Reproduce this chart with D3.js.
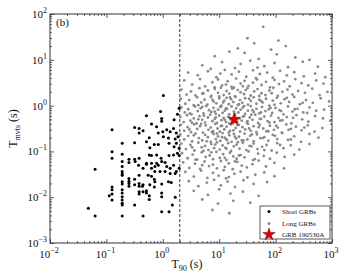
<!DOCTYPE html>
<html><head><meta charset="utf-8">
<script src="https://cdn.jsdelivr.net/npm/d3@7"></script>
<style>body{margin:0;background:#fff}</style>
</head><body><svg id="c" width="350" height="280"></svg>
<script>
// ---- data (values given as log10 of seconds) ----
const xTickExps = [-2, -1, 0, 1, 2, 3];
const yTickExps = [-3, -2, -1, 0, 1, 2];
const shortLogT90 = [0.01,-0.04,-0.29,-0.02,-0.02,0.20,0.29,0.26,-0.20,-0.11,-0.90,-0.50,-0.42,-0.35,-0.42,-0.08,0.00,0.07,0.13,0.19,0.24,0.27,0.01,0.10,0.22,-0.24,-0.29,-0.50,-0.72,-0.15,-0.08,-0.23,0.11,0.20,0.24,0.29,-0.90,-0.72,-0.60,-0.50,-0.42,-0.60,-0.24,-0.20,-0.11,-0.03,0.11,0.19,0.26,0.29,-0.90,-0.29,-0.20,-0.11,-0.02,0.04,-1.20,
-0.72,-0.72,-0.72,-0.72,-0.72,-0.72,-0.72,-0.72,-0.72,-0.72,-0.72,-0.72,-0.72,-0.72,
-0.90,-0.90,-0.90,-0.90,-0.95,
-0.60,-0.60,-0.60,-0.60,-0.50,-0.50,-0.50,
-1.32,-1.20,-0.35,
-0.42,-0.42,-0.42,-0.36,-0.35,-0.42,-0.42,-0.35,-0.29,-0.24,-0.24,-0.29,
-0.49,-0.43,-0.35,-0.29,-0.14,-0.08,0.07,0.13,0.19,0.24,0.29,
-0.26,-0.20,-0.15,-0.14,-0.23,-0.15,-0.02,0.10,0.15,-0.02,-0.02,0.22,0.17,-0.02,0.11,
-0.20,-0.14,-0.05,0.04,0.13,0.22];
const shortLogTmvts = [0.22,-0.13,-0.22,-0.28,-0.34,-0.31,-0.06,-0.19,-0.40,-0.46,-0.53,-0.48,-0.50,-0.55,-0.60,-0.60,-0.57,-0.53,-0.57,-0.50,-0.60,-0.68,-0.68,-0.71,-0.73,-0.70,-0.79,-0.81,-0.82,-0.85,-0.85,-0.92,-0.82,-0.90,-0.82,-0.93,-1.01,-1.06,-1.17,-1.17,-1.15,-1.24,-1.08,-1.09,-1.08,-1.15,-1.09,-1.08,-1.04,-1.09,-1.15,-1.26,-1.26,-1.26,-1.22,-1.24,-1.39,
-1.22,-1.33,-1.44,-1.49,-1.52,-1.66,-1.71,-1.84,-1.91,-1.99,-2.06,-2.13,-2.17,-2.41,
-1.78,-1.84,-1.93,-2.06,-1.97,
-1.59,-1.65,-1.70,-1.76,-1.61,-1.73,-2.17,
-2.24,-2.41,-2.41,
-1.52,-1.70,-1.76,-1.76,-1.73,-1.88,-1.93,-1.88,-1.91,-1.97,-2.05,-1.86,
-1.22,-1.30,-1.37,-1.28,-1.33,-1.30,-1.33,-1.37,-1.30,-1.44,-1.37,
-1.52,-1.54,-1.61,-1.66,-1.73,-1.78,-1.71,-1.66,-1.68,-1.91,-1.99,-2.00,-2.17,-2.32,-2.32,
-1.37,-1.44,-1.44,-1.44,-1.48,-1.48];
const longLogT90 = [
1.78,
1.50,2.05,
1.33,1.62,2.18,1.92,
0.92,1.45,1.70,2.35,1.18,2.02,2.60,
0.70,1.05,1.28,1.55,1.80,1.98,2.22,2.48,2.75,1.38,0.85,1.68,
0.45,0.62,0.80,0.95,1.10,1.22,1.35,1.48,1.60,1.72,1.85,1.95,2.08,2.20,2.33,2.50,2.70,1.02,1.65,2.88,
0.38,0.52,0.66,0.75,0.88,0.98,1.05,1.15,1.22,1.30,1.38,1.45,1.52,1.60,1.67,1.75,1.83,1.90,1.98,2.06,2.15,2.25,2.35,2.46,2.58,2.72,2.85,1.12,1.42,0.92,
0.33,0.42,0.50,0.58,0.65,0.72,0.80,0.86,0.92,0.98,1.03,1.08,1.13,1.18,1.23,1.28,1.33,1.38,1.44,1.50,1.56,1.62,1.68,1.75,1.82,1.89,1.96,2.04,2.12,2.21,2.30,2.40,2.52,2.65,2.78,2.92,0.70,1.00,1.26,1.47,1.71,1.93,
0.32,0.40,0.47,0.55,0.61,0.68,0.74,0.79,0.85,0.90,0.95,1.00,1.04,1.09,1.13,1.17,1.21,1.25,1.29,1.33,1.37,1.41,1.46,1.51,1.56,1.61,1.66,1.71,1.77,1.83,1.89,1.95,2.02,2.09,2.16,2.24,2.33,2.43,2.54,2.66,2.80,2.95,0.63,0.88,1.07,1.19,1.35,1.53,1.74,1.98,2.20,2.48,
0.33,0.39,0.45,0.51,0.57,0.62,0.67,0.72,0.77,0.82,0.86,0.90,0.94,0.98,1.02,1.06,1.10,1.14,1.18,1.22,1.26,1.30,1.34,1.38,1.42,1.46,1.51,1.56,1.61,1.66,1.71,1.76,1.82,1.88,1.94,2.00,2.07,2.14,2.22,2.30,2.39,2.49,2.60,2.72,2.86,0.48,0.70,0.92,1.12,1.28,1.44,1.59,1.74,1.91,2.10,2.34,2.56,1.03,
0.31,0.37,0.43,0.49,0.55,0.60,0.65,0.70,0.75,0.80,0.84,0.88,0.92,0.96,1.00,1.04,1.08,1.12,1.16,1.20,1.24,1.28,1.32,1.36,1.40,1.44,1.49,1.54,1.59,1.64,1.69,1.74,1.80,1.86,1.92,1.98,2.05,2.12,2.20,2.28,2.37,2.47,2.58,2.70,2.84,2.97,0.52,0.73,0.94,1.10,1.26,1.42,1.57,1.72,1.89,2.08,2.31,0.63,1.18,1.50,
0.32,0.38,0.44,0.50,0.56,0.61,0.66,0.71,0.76,0.81,0.85,0.89,0.93,0.97,1.01,1.05,1.09,1.13,1.17,1.21,1.25,1.29,1.33,1.37,1.41,1.46,1.51,1.56,1.61,1.66,1.72,1.78,1.84,1.90,1.97,2.04,2.11,2.19,2.27,2.36,2.46,2.57,2.69,2.83,0.47,0.68,0.87,1.03,1.19,1.35,1.53,1.70,1.87,2.01,2.23,2.51,
0.31,0.38,0.45,0.52,0.58,0.64,0.70,0.75,0.80,0.85,0.90,0.94,0.98,1.02,1.06,1.10,1.14,1.18,1.22,1.26,1.30,1.35,1.40,1.45,1.50,1.55,1.61,1.67,1.73,1.80,1.87,1.95,2.03,2.12,2.22,2.33,2.45,2.60,2.76,0.55,0.78,0.96,1.12,1.28,1.43,1.58,1.77,1.99,2.27,1.05,
0.33,0.41,0.49,0.56,0.63,0.69,0.75,0.81,0.86,0.91,0.96,1.01,1.06,1.11,1.16,1.21,1.26,1.31,1.36,1.42,1.48,1.54,1.61,1.68,1.76,1.84,1.93,2.03,2.14,2.27,2.42,2.60,0.52,0.72,0.93,1.13,1.33,1.57,1.80,2.08,
0.34,0.44,0.53,0.61,0.69,0.76,0.83,0.89,0.95,1.01,1.07,1.13,1.19,1.25,1.31,1.38,1.45,1.52,1.60,1.69,1.79,1.90,2.02,2.16,2.33,0.58,0.86,1.10,1.35,1.63,
0.36,0.47,0.57,0.66,0.74,0.82,0.89,0.96,1.03,1.10,1.17,1.24,1.32,1.40,1.49,1.59,1.70,1.83,1.98,2.15,0.70,1.28,
0.40,0.55,0.68,0.79,0.89,0.99,1.08,1.17,1.27,1.38,1.50,1.64,1.80,1.98,1.12,
0.46,0.63,0.78,0.91,1.03,1.15,1.28,1.43,1.61,1.85,
0.55,0.80,1.00,1.20,1.42,1.70,
0.70,0.98,1.25,1.55,
0.88,1.18];
const longLogTmvts = [
1.72,
1.47,1.42,
1.25,1.36,1.30,1.22,
1.08,1.15,1.02,1.05,1.18,1.12,1.00,
0.88,0.95,0.82,0.98,0.86,0.93,0.84,0.96,0.85,0.91,0.80,0.83,
0.72,0.66,0.75,0.62,0.78,0.68,0.74,0.63,0.77,0.69,0.72,0.61,0.76,0.66,0.73,0.64,0.70,0.70,0.60,0.62,
0.55,0.46,0.58,0.42,0.51,0.57,0.44,0.53,0.41,0.59,0.48,0.54,0.43,0.50,0.57,0.45,0.52,0.40,0.56,0.47,0.53,0.42,0.58,0.49,0.44,0.55,0.48,0.46,0.42,0.40,
0.35,0.24,0.31,0.22,0.38,0.27,0.33,0.21,0.36,0.28,0.39,0.23,0.32,0.26,0.37,0.20,0.34,0.29,0.25,0.38,0.22,0.31,0.36,0.27,0.23,0.33,0.39,0.21,0.30,0.35,0.24,0.32,0.28,0.37,0.23,0.30,0.26,0.20,0.39,0.34,0.21,0.27,
0.15,0.04,0.12,0.01,0.18,0.07,0.13,0.02,0.19,0.09,0.05,0.16,0.00,0.11,0.17,0.03,0.14,0.08,0.19,0.01,0.12,0.06,0.16,0.02,0.10,0.18,0.04,0.13,0.07,0.15,0.00,0.11,0.17,0.05,0.14,0.08,0.19,0.03,0.12,0.06,0.16,0.09,0.01,0.13,0.07,0.18,0.03,0.15,0.10,0.02,0.17,0.06,
-0.04,-0.15,-0.08,-0.19,-0.02,-0.12,-0.06,-0.17,-0.01,-0.10,-0.14,-0.05,-0.18,-0.09,-0.03,-0.16,-0.11,-0.07,-0.19,-0.02,-0.13,-0.06,-0.15,-0.09,-0.04,-0.18,-0.11,-0.01,-0.14,-0.07,-0.17,-0.03,-0.12,-0.08,-0.16,-0.05,-0.10,-0.19,-0.02,-0.13,-0.07,-0.15,-0.04,-0.11,-0.09,-0.17,-0.03,-0.13,-0.06,-0.18,-0.01,-0.10,-0.15,-0.05,-0.12,-0.08,-0.16,-0.02,
-0.25,-0.36,-0.21,-0.33,-0.28,-0.39,-0.23,-0.31,-0.37,-0.26,-0.20,-0.34,-0.29,-0.38,-0.22,-0.32,-0.27,-0.36,-0.24,-0.30,-0.39,-0.21,-0.35,-0.28,-0.33,-0.23,-0.37,-0.26,-0.31,-0.20,-0.38,-0.29,-0.24,-0.34,-0.22,-0.36,-0.27,-0.32,-0.25,-0.39,-0.21,-0.30,-0.35,-0.23,-0.28,-0.33,-0.38,-0.22,-0.26,-0.31,-0.36,-0.24,-0.20,-0.29,-0.37,-0.33,-0.27,-0.30,-0.39,-0.34,
-0.42,-0.55,-0.47,-0.58,-0.41,-0.51,-0.45,-0.59,-0.43,-0.53,-0.48,-0.56,-0.40,-0.50,-0.57,-0.44,-0.52,-0.46,-0.59,-0.41,-0.54,-0.49,-0.43,-0.57,-0.47,-0.52,-0.40,-0.55,-0.45,-0.58,-0.42,-0.50,-0.56,-0.44,-0.53,-0.48,-0.59,-0.41,-0.51,-0.46,-0.54,-0.43,-0.57,-0.49,-0.52,-0.40,-0.58,-0.45,-0.55,-0.42,-0.50,-0.47,-0.56,-0.44,-0.53,-0.48,
-0.63,-0.74,-0.66,-0.78,-0.61,-0.71,-0.76,-0.64,-0.69,-0.79,-0.62,-0.73,-0.67,-0.77,-0.60,-0.70,-0.75,-0.65,-0.79,-0.62,-0.72,-0.68,-0.76,-0.61,-0.74,-0.66,-0.78,-0.63,-0.71,-0.69,-0.77,-0.64,-0.73,-0.60,-0.75,-0.67,-0.79,-0.62,-0.70,-0.65,-0.78,-0.61,-0.73,-0.68,-0.76,-0.63,-0.71,-0.66,-0.74,-0.69,
-0.83,-0.95,-0.86,-0.98,-0.81,-0.91,-0.88,-0.97,-0.84,-0.93,-0.80,-0.96,-0.87,-0.92,-0.82,-0.99,-0.89,-0.85,-0.94,-0.81,-0.97,-0.88,-0.83,-0.95,-0.90,-0.86,-0.98,-0.82,-0.93,-0.87,-0.96,-0.84,-0.91,-0.99,-0.85,-0.94,-0.80,-0.89,-0.97,-0.86,
-1.04,-1.15,-1.07,-1.18,-1.02,-1.12,-1.09,-1.17,-1.01,-1.14,-1.06,-1.19,-1.03,-1.11,-1.16,-1.08,-1.13,-1.00,-1.19,-1.05,-1.10,-1.16,-1.03,-1.12,-1.07,-1.18,-1.02,-1.14,-1.09,-1.17,
-1.24,-1.36,-1.27,-1.38,-1.22,-1.32,-1.29,-1.37,-1.21,-1.34,-1.26,-1.39,-1.23,-1.31,-1.35,-1.28,-1.20,-1.33,-1.25,-1.37,-1.30,-1.22,
-1.45,-1.55,-1.42,-1.58,-1.47,-1.53,-1.41,-1.56,-1.49,-1.44,-1.57,-1.51,-1.46,-1.54,-1.59,
-1.65,-1.76,-1.68,-1.62,-1.74,-1.66,-1.78,-1.63,-1.71,-1.67,
-1.86,-1.95,-1.83,-1.92,-1.88,-1.97,
-2.05,-2.14,-2.08,-2.12,
-2.28,-2.35];
const grbT90 = [18.4];
const grbTmvts = [0.5];
const dividerT90 = 2;
const legendLabels = ["Short GRBs", "Long GRBs", "GRB 190530A"];
const panelLabel = "(b)";

// ---- chart ----
const svg = d3.select("#c");
const L = 50, R = 332, T = 14, B = 243;
const x = d3.scaleLog().domain([1e-2, 1e3]).range([L, R]);
const y = d3.scaleLog().domain([1e-3, 1e2]).range([B, T]);
const serif = "'Liberation Serif','DejaVu Serif',serif";

function minors(exps) {
  const out = [];
  for (let i = 0; i < exps.length - 1; i++)
    for (let m = 2; m <= 9; m++) out.push(m * Math.pow(10, exps[i]));
  return out;
}
const xMaj = xTickExps.map(e => Math.pow(10, e)), yMaj = yTickExps.map(e => Math.pow(10, e));
const xMin = minors(xTickExps), yMin = minors(yTickExps);

function axisGroup(axisFn, scale, vals, size, tr) {
  const g = svg.append("g").attr("transform", tr)
    .call(axisFn(scale).tickValues(vals).tickSizeInner(-size).tickSizeOuter(0).tickFormat(""));
  g.select(".domain").remove();
  g.selectAll(".tick line").attr("stroke", "#333").attr("stroke-width", 0.8);
}
[[xMaj, 4], [xMin, 2]].forEach(([v, s]) => {
  axisGroup(d3.axisBottom, x, v, s, `translate(0,${B})`);
  axisGroup(d3.axisTop, x, v, s, `translate(0,${T})`);
});
[[yMaj, 4], [yMin, 2]].forEach(([v, s]) => {
  axisGroup(d3.axisLeft, y, v, s, `translate(${L},0)`);
  axisGroup(d3.axisRight, y, v, s, `translate(${R},0)`);
});

// divider
svg.append("line").attr("x1", x(dividerT90)).attr("x2", x(dividerT90))
  .attr("y1", T).attr("y2", B).attr("stroke", "#333").attr("stroke-width", 1)
  .attr("stroke-dasharray", "3,2");

// points
const longData = longLogT90.map((v, i) => [Math.pow(10, v), Math.pow(10, longLogTmvts[i])]);
const shortData = shortLogT90.map((v, i) => [Math.pow(10, v), Math.pow(10, shortLogTmvts[i])]);
svg.append("g").selectAll("circle").data(longData).join("circle")
  .attr("cx", d => x(d[0])).attr("cy", d => y(d[1])).attr("r", 1.4).attr("fill", "#8a8a8a");
svg.append("g").selectAll("circle").data(shortData).join("circle")
  .attr("cx", d => x(d[0])).attr("cy", d => y(d[1])).attr("r", 1.5).attr("fill", "#000");

const starPath = d3.symbol().type(d3.symbolStar).size(48)();
svg.append("path").attr("d", starPath)
  .attr("transform", `translate(${x(grbT90[0])},${y(grbTmvts[0])})`)
  .attr("fill", "#e00000").attr("stroke", "#600").attr("stroke-width", 0.5);

// frame
svg.append("rect").attr("x", L).attr("y", T).attr("width", R - L).attr("height", B - T)
  .attr("fill", "none").attr("stroke", "#333").attr("stroke-width", 1);

// tick labels
function pow10Label(g, e, xp, yp, anchor) {
  const t = g.append("text").attr("x", xp).attr("y", yp).attr("text-anchor", anchor)
    .attr("font-family", serif).attr("font-size", 11).attr("fill", "#111");
  t.append("tspan").text("10");
  t.append("tspan").attr("dy", -5).attr("font-size", 8).text(e < 0 ? "\u2212" + (-e) : e);
}
const lab = svg.append("g");
xTickExps.forEach(e => pow10Label(lab, e, x(Math.pow(10, e)) - 1, B + 15, "middle"));
yTickExps.forEach(e => pow10Label(lab, e, L - 3, y(Math.pow(10, e)) + 4, "end"));

// axis titles
const xt = svg.append("text").attr("x", (L + R) / 2 - 4).attr("y", 268).attr("text-anchor", "middle")
  .attr("font-family", serif).attr("font-size", 12).attr("fill", "#111");
xt.append("tspan").text("T");
xt.append("tspan").attr("dy", 3).attr("font-size", 8).text("90");
xt.append("tspan").attr("dy", -3).text(" (s)");
const yt = svg.append("text").attr("transform", `translate(17,${(T + B) / 2}) rotate(-90)`)
  .attr("text-anchor", "middle").attr("font-family", serif).attr("font-size", 12).attr("fill", "#111");
yt.append("tspan").text("T");
yt.append("tspan").attr("dy", 3).attr("font-size", 8).text("mvts");
yt.append("tspan").attr("dy", -3).text(" (s)");

svg.append("text").attr("x", 56).attr("y", 26).attr("font-family", serif).attr("font-size", 11)
  .attr("fill", "#111").text(panelLabel);

// legend
const lg = svg.append("g");
lg.append("rect").attr("x", 260).attr("y", 206).attr("width", 70).attr("height", 33)
  .attr("fill", "#fff").attr("stroke", "#333").attr("stroke-width", 0.8);
const rows = [211.5, 223.5, 234.5];
lg.append("circle").attr("cx", 269).attr("cy", rows[0]).attr("r", 1.5).attr("fill", "#000");
lg.append("circle").attr("cx", 269).attr("cy", rows[1]).attr("r", 1.5).attr("fill", "#8a8a8a");
lg.append("path").attr("d", starPath).attr("transform", `translate(269,${rows[2]})`)
  .attr("fill", "#e00000").attr("stroke", "#600").attr("stroke-width", 0.5);
legendLabels.forEach((s, i) => lg.append("text").attr("x", 282).attr("y", rows[i] + 2.5)
  .attr("font-family", serif).attr("font-size", 7).attr("fill", "#111").text(s));
</script></body></html>
